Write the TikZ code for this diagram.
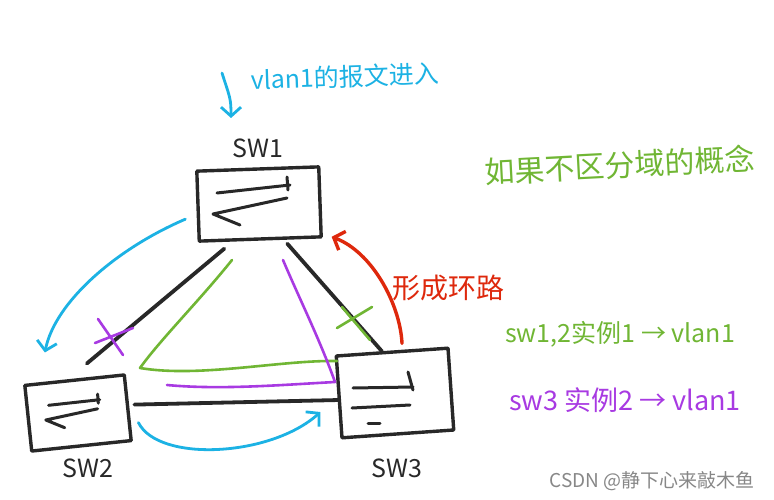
\documentclass[tikz,border=0pt]{standalone}
\usepackage{fontspec}
\newfontfamily\hand{Noto Sans CJK SC}
\usetikzlibrary{arrows.meta}

\definecolor{inkblack}{RGB}{40,40,40}
\definecolor{inkcyan}{RGB}{28,178,228}
\definecolor{inkgreen}{RGB}{112,182,52}
\definecolor{inkpurple}{RGB}{168,58,226}
\definecolor{inkred}{RGB}{222,40,12}
\definecolor{inkgray}{RGB}{135,135,135}

\begin{document}
\begin{tikzpicture}[
    x=1pt, y=-1pt,
    line cap=round, line join=round,
    >={Straight Barb[length=9pt,width=20pt]},
    swbox/.style={draw=inkblack, line width=3.4pt, inner sep=0pt},
    swname/.style={font=\hand\fontsize{25}{25}\selectfont, text=inkblack, inner sep=1pt},
    handtext/.style={font=\hand\fontsize{#1}{#1}\selectfont, inner sep=1pt},
    link/.style={draw=inkblack, line width=3.8pt},
    cyanflow/.style={draw=inkcyan, line width=2.8pt, ->},
    redflow/.style={draw=inkred, line width=3.4pt, ->},
    stroke/.style={line width=2.6pt},
    swsign/.pic={
        \draw[inkblack, line width=3pt] (-42,-11) -- (31,-19);
        \draw[inkblack, line width=3pt] (28,-27) -- (29,-14);
        \draw[inkblack, line width=3pt] (28,-6) -- (-46,10) -- (-19,21);
    },
    swsignb/.pic={
        \draw[inkblack, line width=3pt] (-42,-5) -- (18,-6);
        \draw[inkblack, line width=3pt] (13,-21) -- (18,-3);
        \draw[inkblack, line width=3pt] (-43,15) -- (15,12);
        \draw[inkblack, line width=3pt] (-27,30) -- (-15,30);
    }
]
\path[fill=white, use as bounding box] (0,0) rectangle (774,500);

% switches
\node[swbox, minimum width=122pt, minimum height=70pt, rotate=2] (sw1) at (259,204) {};
\node[swbox, minimum width=100pt, minimum height=66pt, rotate=6] (sw2) at (78,413) {};
\node[swbox, minimum width=112pt, minimum height=82pt, rotate=4] (sw3) at (395,393) {};
\pic at (sw1) {swsign};
\pic[scale=0.7] at (sw2) {swsign};
\pic at (sw3) {swsignb};

\node[swname] (sw1name) at (258,148) {SW1};
\node[swname] (sw2name) at (88,468) {SW2};
\node[swname] (sw3name) at (397,468) {SW3};

% links
\draw[link] ([xshift=-36pt,yshift=-8pt]sw1.south) -- ([xshift=12.5pt,yshift=15pt]sw2.north);
\draw[link] ([xshift=27pt,yshift=-3pt]sw1.south) -- ([xshift=-10pt,yshift=-1pt]sw3.north);
\draw[link] ([xshift=5pt,yshift=3pt]sw2.east) -- ([xshift=1pt,yshift=-3pt]sw3.west);

% vlan1 frames
\node[handtext=25, text=inkcyan, anchor=west, rotate=2] (vlan) at (250,80) {vlan1的报文进入};
\draw[cyanflow] ([xshift=-28pt,yshift=7pt]vlan.west) .. controls +(8,25) and +(0,-20) .. ([xshift=-27pt,yshift=30pt]sw1name.center);
\draw[cyanflow] ([xshift=-11pt,yshift=-13pt]sw1.west) .. controls +(-70,30) and +(10,-50) .. ([xshift=-29.5pt,yshift=26pt]sw2.north);
\draw[cyanflow] ([xshift=9pt,yshift=-15pt]sw2.east) .. controls +(20,40) and +(-50,45) .. ([xshift=-17pt,yshift=-15pt]sw3.west);

% instance trees
\draw[stroke, inkgreen] (232,260) .. controls (200,300) and (160,340) .. (140,368)
    .. controls (200,378) and (280,360) .. (337,361);
\draw[stroke, inkpurple] (283,260) .. controls (300,300) and (320,340) .. (335,382)
    .. controls (280,385) and (220,390) .. (167,385);
\draw[stroke, inkpurple] (98,319) -- (123,355) (95,343) -- (133,328);
\draw[stroke, inkgreen] (342,307) -- (370,340) (337,328) -- (372,307);

% loop
\draw[redflow] ([xshift=10pt,yshift=7pt]sw3.north) .. controls +(-2,-40) and +(40,15) .. ([xshift=10pt,yshift=-35pt]sw1.east);
\node[handtext=28, text=inkred] (loopnote) at (448,288) {形成环路};

% notes
\node[handtext=30, text=inkgreen, rotate=3] (nodomain) at (620,165) {如果不区分域的概念};
\node[handtext=25, text=inkgreen] (inst1) at (620,334) {sw1,2实例1 → vlan1};
\node[handtext=27, text=inkpurple] (inst2) at (625,400) {sw3 实例2 → vlan1};
\node[handtext=19, text=inkgray] (credit) at (652,481) {CSDN @静下心来敲木鱼};
\end{tikzpicture}
\end{document}
